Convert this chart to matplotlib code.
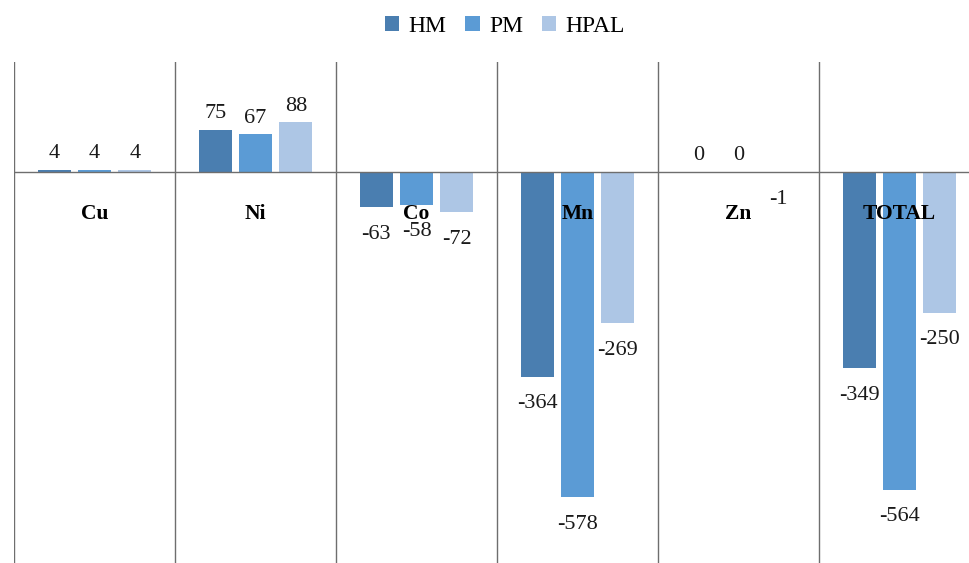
import matplotlib.pyplot as plt
import numpy as np

plt.rcParams['font.family'] = ['Liberation Serif', 'DejaVu Serif']

categories = ['Cu', 'Ni', 'Co', 'Mn', 'Zn', 'TOTAL']
series = ['HM', 'PM', 'HPAL']
hm = [4, 75, -63, -364, 0, -349]
pm = [4, 67, -58, -578, 0, -564]
hpal = [4, 88, -72, -269, -1, -250]
colors = ['#4a7eb0', '#5b9bd5', '#adc6e5']

W, H = 969, 563
fig = plt.figure(figsize=(W / 100, H / 100), dpi=100)
# axes run a bit past the right and bottom edges of the figure
ax = fig.add_axes([14 / W, -37 / H, 966 / W, 538 / H])
ax.set_xlim(-0.5, 5.5)
ax.set_ylim(-760, 195)

x = np.arange(len(categories))
width = 0.205
step = 0.25
for i, (name, vals) in enumerate(zip(series, [hm, pm, hpal])):
    xs = x + (i - 1) * step
    ax.bar(xs, vals, width, color=colors[i], label=name, zorder=2)
    for xi, v in zip(xs, vals):
        if v >= 0:
            off = 11.5
        else:
            off = -19.5
        ax.annotate(str(v), (xi, v), xytext=(0, off), textcoords='offset points',
                    ha='center', va='center', fontsize=16, color='#1a1a1a', zorder=4)

for b in np.arange(-0.5, 6, 1):
    ax.axvline(b, color='#6e6e6e', lw=1, zorder=1)
ax.axhline(0, color='#6e6e6e', lw=1, zorder=3)

for xi, c in zip(x, categories):
    ax.text(xi, -74, c, ha='center', va='center', fontsize=15.5, fontweight='bold', zorder=5)

for s in ax.spines.values():
    s.set_visible(False)
ax.set_xticks([])
ax.set_yticks([])

fig.legend(loc='center', bbox_to_anchor=(505 / W, 1 - 26 / H), ncol=3, frameon=False,
           fontsize=17, handlelength=0.6, handleheight=0.6, handletextpad=0.4,
           columnspacing=0.8)

fig.savefig('out.png', dpi=100)
